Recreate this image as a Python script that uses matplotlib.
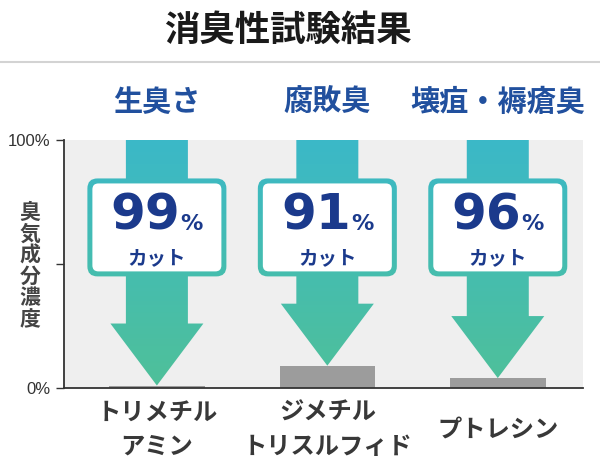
import numpy as np
import matplotlib
matplotlib.use("Agg")
import matplotlib.pyplot as plt
from matplotlib.patches import Polygon, FancyBboxPatch
from matplotlib.colors import LinearSegmentedColormap
from matplotlib.lines import Line2D
from matplotlib.offsetbox import TextArea, HPacker, AnnotationBbox

# ---- data ----
title = "消臭性試験結果"
odor_types = ["生臭さ", "腐敗臭", "壊疽・褥瘡臭"]
substances = ["トリメチル\nアミン", "ジメチル\nトリスルフィド", "プトレシン"]
cut_rates = [99, 91, 96]          # % cut
remaining = [1, 9, 4]             # remaining concentration (%)
y_ticks = [0, 50, 100]
y_tick_labels = ["0%", "", "100%"]
y_label = "臭気成分濃度"

CJK = ["Noto Sans CJK JP", "DejaVu Sans"]
plt.rcParams["font.family"] = CJK

W, H = 600, 468
fig = plt.figure(figsize=(W / 100, H / 100), dpi=100)
fig.patch.set_facecolor("white")

ax_l, ax_r, ax_b, ax_t = 64, 583, 388, 140
ax = fig.add_axes([ax_l / W, 1 - ax_b / H, (ax_r - ax_l) / W, (ax_b - ax_t) / H])
ax.set_facecolor("#efefef")

xpos = np.arange(len(odor_types))
xlim = (-0.545, 2.5)
ylim = (0, 100)
px_x = (ax_r - ax_l) / (xlim[1] - xlim[0])
px_y = (ax_b - ax_t) / (ylim[1] - ylim[0])
asp = px_x / px_y

# gradient colormap (bottom green -> top cyan)
cmap = LinearSegmentedColormap.from_list("g", ["#4fc099", "#45bdb0", "#3bb8c8"])
grad = np.linspace(0, 1, 256).reshape(-1, 1)

def grad_fill(patch):
    ax.add_patch(patch)
    im = ax.imshow(grad, cmap=cmap, aspect="auto", origin="lower",
                   extent=(xlim[0], xlim[1], ylim[0], ylim[1]), zorder=patch.get_zorder())
    im.set_clip_path(patch)

# grey remaining bars
ax.bar(xpos, remaining, width=0.56, color="#9c9c9c", zorder=2)

shaft_hw = 31 / px_x
head_hw = 46.5 / px_x
head_h = 62 / px_y
box_hw = 69.5 / px_x
box_y0, box_y1 = 45.0, 84.5
border_x, border_y = 5 / px_x, 5 / px_y

for x, rem, cut in zip(xpos, remaining, cut_rates):
    tip = rem
    htop = tip + head_h
    arrow = Polygon([(x - shaft_hw, 100), (x + shaft_hw, 100), (x + shaft_hw, htop),
                     (x + head_hw, htop), (x, tip), (x - head_hw, htop),
                     (x - shaft_hw, htop)], closed=True, facecolor="none",
                    edgecolor="none", zorder=3)
    grad_fill(arrow)
    outer = FancyBboxPatch((x - box_hw, box_y0), 2 * box_hw, box_y1 - box_y0,
                           boxstyle=f"round,pad=0,rounding_size={10 / px_x}",
                           mutation_aspect=asp, facecolor="none", edgecolor="none",
                           zorder=4)
    grad_fill(outer)
    inner = FancyBboxPatch((x - box_hw + border_x, box_y0 + border_y),
                           2 * (box_hw - border_x), box_y1 - box_y0 - 2 * border_y,
                           boxstyle=f"round,pad=0,rounding_size={6 / px_x}",
                           mutation_aspect=asp, facecolor="white", edgecolor="none",
                           zorder=5)
    ax.add_patch(inner)
    num = TextArea(f"{cut}", textprops=dict(fontsize=36, fontweight="bold",
                                             color="#1b3a8c", family="DejaVu Sans"))
    pct = TextArea("%", textprops=dict(fontsize=16, fontweight="bold",
                                        color="#1b3a8c", family="DejaVu Sans"))
    pack = HPacker(children=[num, pct], align="baseline", pad=0, sep=0)
    ab = AnnotationBbox(pack, (x, 69.5), frameon=False, box_alignment=(0.5, 0.5),
                        zorder=6, pad=0)
    ax.add_artist(ab)
    ax.text(x, 52.0, "カット", ha="center", va="center", fontsize=14,
            fontweight="bold", color="#1b3a8c", zorder=6)

ax.set_xlim(*xlim)
ax.set_ylim(*ylim)

# spines / ticks
for s in ["top", "right"]:
    ax.spines[s].set_visible(False)
for s in ["left", "bottom"]:
    ax.spines[s].set_color("#333333")
    ax.spines[s].set_linewidth(1.3)
    ax.spines[s].set_zorder(7)
ax.set_xticks([])
ax.set_yticks(y_ticks)
ax.set_yticklabels(y_tick_labels, fontsize=12, color="#333333",
                   family=["Liberation Sans", "DejaVu Sans"])
ax.tick_params(axis="y", direction="out", length=6, width=1, color="#333333", pad=4)

# odor type headers
trans = ax.get_xaxis_transform()
for x, name in zip(xpos, odor_types):
    ax.text(x, 1.153, name, transform=trans, ha="center", va="center",
            fontsize=21, fontweight="bold", color="#21509e", clip_on=False)

# substance labels
for x, name in zip(xpos, substances):
    ax.text(x, -0.168, name, transform=trans, ha="center", va="center",
            fontsize=17.5, color="#383838", linespacing=1.55, fontweight="bold",
            clip_on=False)

# y label stacked vertically
fig.text(30 / W, 1 - 266 / H, "\n".join(y_label), ha="center", va="center",
         fontsize=15, color="#444444", linespacing=1.02, fontweight="bold")

# title and separator
fig.text(288 / W, 1 - 30 / H, title, ha="center", va="center", fontsize=25.5,
         fontweight="bold", color="#1a1a1a")
fig.add_artist(Line2D([0, 1], [1 - 62 / H, 1 - 62 / H], transform=fig.transFigure,
                      color="#d3d3d3", lw=1.5))

fig.savefig("out.png", dpi=100, facecolor="white")
